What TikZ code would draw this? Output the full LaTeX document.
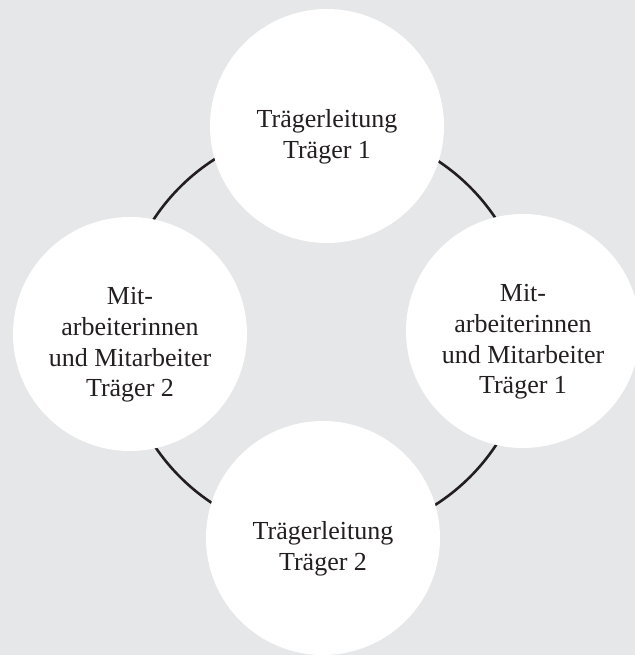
\documentclass[tikz,border=0pt]{standalone}
\usepackage{fontspec}
\setmainfont{Liberation Serif}
\definecolor{bggrey}{RGB}{230,231,232}
\definecolor{inkgrey}{RGB}{35,31,32}

\tikzset{
  member/.style={circle, fill=white, minimum size=234pt, inner sep=0pt},
  caption/.style={align=center, text=inkgrey, inner sep=0pt,
    font=\fontsize{26}{30.6}\selectfont, yshift=-11pt},
  ring/.style={line width=2.6pt, draw=inkgrey}
}

\begin{document}
\begin{tikzpicture}[x=1pt,y=-1pt]
	\useasboundingbox (0,0) rectangle (635,655);
	\fill [bggrey] (0,0) rectangle (635,655);
	
	% ring behind the four circles
	\coordinate (mid) at (325,332);
	\draw [ring] (mid) circle[radius=205pt];
	
	\node [member, label={[caption, name=leitung1-text]center:{Trägerleitung\\Träger 1}}] (leitung1) at (327,126) {};
	\node [member, label={[caption, name=team2-text]center:{Mit-\\arbeiterinnen\\und Mitarbeiter\\Träger 2}}] (team2) at (130,334) {};
	\node [member, label={[caption, name=team1-text]center:{Mit-\\arbeiterinnen\\und Mitarbeiter\\Träger 1}}] (team1) at (523,331) {};
	\node [member, label={[caption, name=leitung2-text]center:{Trägerleitung\\Träger 2}}] (leitung2) at (323,538) {};
	
\end{tikzpicture}
\end{document}
